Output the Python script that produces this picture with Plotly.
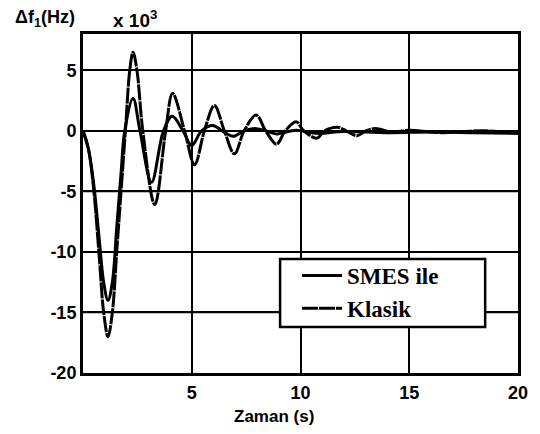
import plotly.graph_objects as go

# time (s) and values (x 10^3 Hz)
t_klasik = [0, 0.25, 0.5, 0.75, 0.95, 1.15, 1.35, 1.55, 1.75, 1.95, 2.15, 2.3, 2.48, 2.75,
            3.3, 3.8, 4.12, 4.67, 5.13, 5.58, 6.04, 6.5, 6.96, 7.41, 7.96, 8.4, 8.9, 9.3,
            9.8, 10.15, 10.75, 11.1, 11.7, 12.1, 12.6, 13.0, 13.45, 14.2, 15.0, 16.5,
            17.5, 18.5, 20]
y_klasik = [0, -1.5, -5, -10.5, -15, -17, -15, -10, -5, 0, 5, 6.5, 5, 0,
            -6.1, 0, 3.1, 0, -2.8, 0, 2.1, 0, -1.9, 0, 1.3, 0, -1.1, 0,
            0.75, 0, -0.6, 0, 0.3, 0, -0.4, 0, 0.2, -0.1, 0.05, -0.15,
            -0.05, 0.0, -0.2]

t_smes = [0, 0.25, 0.5, 0.75, 0.95, 1.15, 1.35, 1.55, 1.75, 1.92, 2.3, 2.62,
          3.15, 3.7, 4.1, 4.6, 5.0, 5.45, 5.97, 6.4, 6.9, 7.4, 7.9, 8.4, 8.9,
          9.8, 10.7, 12.0, 14.0, 16.0, 18.0, 20]
y_smes = [0, -1.5, -4.5, -9, -12.5, -14, -12.5, -8, -3.5, 0, 2.7, 0,
          -4.25, 0, 1.2, 0, -1.2, 0, 0.45, 0, -0.45, 0, 0.2, 0, -0.25,
          0.05, -0.2, -0.05, -0.15, -0.1, -0.15, -0.2]

x_ticks = [5, 10, 15, 20]
y_ticks = [-20, -15, -10, -5, 0, 5]

fig = go.Figure()
fig.add_trace(go.Scatter(x=t_smes, y=y_smes, mode="lines", name="SMES ile",
                         line=dict(color="black", width=3, shape="spline", smoothing=1.0)))
fig.add_trace(go.Scatter(x=t_klasik, y=y_klasik, mode="lines", name="Klasik",
                         line=dict(color="black", width=3, shape="spline", smoothing=1.0,
                                   dash="16px,1px")))

# page has an 8px body margin; the figure is offset by it
OFF = 8
W, H = 540 - OFF, 434 - OFF
L, R, T, B = 83 - OFF, 20, 34 - OFF, 61
PW, PH = W - L - R, H - T - B


def px(xp):
    return (xp - OFF - L) / PW


def py(yp):
    return (H - B - (yp - OFF)) / PH


# horizontal grid lines at the y tick values
grid_shapes = [dict(type="line", xref="paper", yref="y", x0=0, x1=1, y0=v, y1=v,
                    line=dict(color="black", width=1.5), layer="below")
               for v in y_ticks if v > -20]

legend_box = dict(type="rect", xref="paper", yref="paper",
                  x0=px(281), x1=px(487), y0=py(327), y1=py(259),
                  line=dict(color="black", width=2.5), fillcolor="white", layer="above")

fig.update_layout(
    width=W, height=H,
    margin=dict(l=L, r=R, t=T, b=B),
    paper_bgcolor="white", plot_bgcolor="white",
    font=dict(family="Liberation Sans", color="black"),
    showlegend=True,
    legend=dict(x=px(298), y=py(254),
                xanchor="left", yanchor="top",
                bgcolor="rgba(0,0,0,0)", borderwidth=0,
                font=dict(family="Liberation Serif", size=23, color="black", weight="bold"),
                itemwidth=40, tracegroupgap=0),
    xaxis=dict(range=[0, 20], tickmode="array", tickvals=x_ticks,
               ticktext=[str(v) for v in x_ticks],
               tickfont=dict(size=18, weight="bold"), showgrid=True, gridcolor="#000000",
               gridwidth=1.5, zeroline=False, showline=True, linecolor="black",
               linewidth=3, mirror=True, ticks="", ticklabelstandoff=1),
    yaxis=dict(range=[-20, 8], tickmode="array", tickvals=y_ticks,
               ticktext=[str(v) for v in y_ticks],
               tickfont=dict(size=18, weight="bold"), showgrid=True, gridcolor="#000000",
               gridwidth=1.5, zeroline=False, showline=True, linecolor="black",
               linewidth=3, mirror=True, ticks=""),
    shapes=grid_shapes + [legend_box],
    annotations=[
        dict(text="Δf<sub>1</sub>(Hz)", xref="paper", yref="paper",
             x=px(13), y=py(19), xanchor="left", yanchor="middle",
             showarrow=False, font=dict(size=18, weight="bold")),
        dict(text="x 10<sup>3</sup>", xref="paper", yref="paper",
             x=px(111), y=py(19), xanchor="left", yanchor="middle",
             showarrow=False, font=dict(size=19, weight="bold")),
        dict(text="Zaman (s)", xref="paper", yref="paper",
             x=px(275), y=py(416), xanchor="center", yanchor="middle",
             showarrow=False, font=dict(size=17, weight="bold")),
    ],
)

fig.write_html("out.html")
